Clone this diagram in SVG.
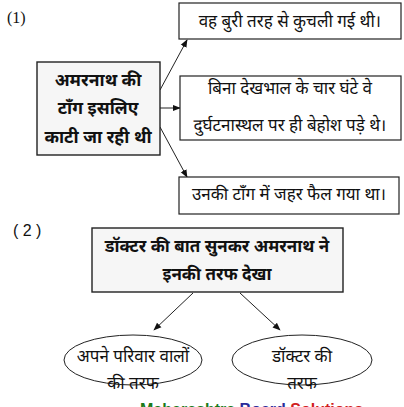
<svg xmlns="http://www.w3.org/2000/svg" width="404" height="407" viewBox="0 0 404 407">
<style>
.t{font-family:"Noto Sans Devanagari","Noto Sans","Liberation Sans",sans-serif;font-size:17px;fill:#111;text-anchor:middle}
.b{font-weight:bold}
.m{font-size:17.5px}
.box{fill:#fff;stroke:#222;stroke-width:1.2}
.gbox{fill:#f6f6f6;stroke:#222;stroke-width:1.4}
.ell{fill:#fff;stroke:#222;stroke-width:1}
.c{stroke:#222;stroke-width:1;fill:none;marker-end:url(#ah)}
.lbl{font-family:"Liberation Serif",serif;font-size:16px;fill:#111}
</style>
<defs>
<marker id="ah" viewBox="0 0 10 10" refX="9" refY="5" markerWidth="8" markerHeight="8" markerUnits="userSpaceOnUse" orient="auto">
<path d="M0,1 L10,5 L0,9 z" fill="#111"/>
</marker>
</defs>
<rect width="404" height="407" fill="#fff"/>
<text class="lbl" x="7" y="23">(1)</text>
<text class="lbl" x="13" y="236" style="font-family:'Liberation Sans',sans-serif">( 2 )</text>

<g id="connectors">
<line class="c" x1="160" y1="90" x2="187" y2="40"/>
<line class="c" x1="160" y1="108" x2="180" y2="108"/>
<line class="c" x1="160" y1="127" x2="187" y2="177"/>
<line class="c" x1="193" y1="293" x2="154" y2="330"/>
<line class="c" x1="240" y1="293" x2="280" y2="330"/>
</g>

<g id="main">
<rect class="gbox" x="37" y="62" width="123" height="93"/>
<text class="t b m" x="98" y="86">अमरनाथ की</text>
<text class="t b m" x="98" y="114">टाँग इसलिए</text>
<text class="t b m" x="98" y="143">काटी जा रही थी</text>
</g>
<g id="r1">
<rect class="box" x="179" y="3" width="222" height="36"/>
<text class="t" x="290" y="27">वह बुरी तरह से कुचली गई थी।</text>
</g>
<g id="r2">
<rect class="box" x="180" y="76" width="221" height="64"/>
<text class="t" x="290" y="94">बिना देखभाल के चार घंटे वे</text>
<text class="t" x="290" y="131">दुर्घटनास्थल पर ही बेहोश पड़े थे।</text>
</g>
<g id="r3">
<rect class="box" x="179" y="177" width="220" height="37"/>
<text class="t" x="289" y="200">उनकी टाँग में जहर फैल गया था।</text>
</g>
<g id="doctor">
<rect class="gbox" x="92" y="228" width="251" height="64"/>
<text class="t b" x="217" y="252">डॉक्टर की बात सुनकर अमरनाथ ने</text>
<text class="t b" x="217" y="280">इनकी तरफ देखा</text>
</g>
<g id="e1">
<ellipse class="ell" cx="133" cy="360" rx="69" ry="25"/>
<text class="t" x="133" y="362">अपने परिवार वालों</text>
<text class="t" x="133" y="389">की तरफ</text>
</g>
<g id="e2">
<ellipse class="ell" cx="302" cy="360" rx="70" ry="25"/>
<text class="t" x="302" y="362">डॉक्टर की</text>
<text class="t" x="302" y="389">तरफ</text>
</g>
<text x="140" y="415" style="font-family:'Liberation Sans',sans-serif;font-weight:bold;font-size:16px"><tspan fill="#1a7a1a">Maharashtra</tspan><tspan fill="#2a2a9a"> Board</tspan><tspan fill="#d02020"> Solutions</tspan></text>
</svg>
